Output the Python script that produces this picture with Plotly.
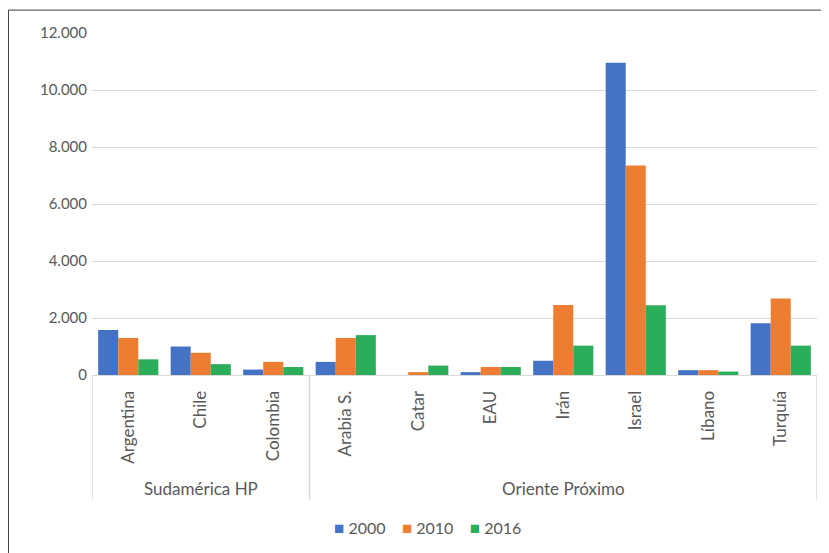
import plotly.graph_objects as go

# Categories (two-level x axis)
groups = ['Sudamérica HP', 'Oriente Próximo']
group_sizes = [3, 7]
countries = ['Argentina', 'Chile', 'Colombia', 'Arabia S.', 'Catar', 'EAU',
             'Irán', 'Israel', 'Líbano', 'Turquía']

# Series values
years = ['2000', '2010', '2016']
v2000 = [1580, 1000, 190, 460, 0, 100, 500, 10960, 170, 1820]
v2010 = [1300, 780, 460, 1300, 100, 280, 2460, 7350, 170, 2680]
v2016 = [550, 380, 280, 1400, 330, 280, 1030, 2450, 120, 1030]

y_ticks = [0, 2000, 4000, 6000, 8000, 10000, 12000]

COLORS = {'2000': '#4472C4', '2010': '#ED7D31', '2016': '#2AAE5A'}
GRID = '#D9D9D9'
TEXT = '#595959'

fig = go.Figure()
for year, vals in zip(years, [v2000, v2010, v2016]):
    fig.add_trace(go.Bar(
        x=countries,
        y=vals,
        name=year,
        marker=dict(color=COLORS[year], line=dict(width=0)),
    ))

# the page body adds an 8px offset, so the figure is 8px smaller to fit the window
fig.update_layout(
    width=821,
    height=545,
    barmode='group',
    bargap=0.17,
    bargroupgap=0,
    separators=',.',
    plot_bgcolor='white',
    paper_bgcolor='white',
    font=dict(family='Lato, Open Sans, sans-serif', size=16, color=TEXT),
    margin=dict(l=84, r=12, t=25, b=178),
    showlegend=False,
)

fig.update_yaxes(
    range=[0, 12000],
    tickvals=y_ticks,
    tickformat=',d',
    tickfont=dict(size=15, color=TEXT),
    gridcolor=GRID,
    gridwidth=1,
    zeroline=False,
    showline=False,
    ticks='',
    ticklabelstandoff=4,
    automargin=False,
)

fig.update_xaxes(
    type='category',
    range=[-0.5, len(countries) - 0.5],
    tickangle=-90,
    tickfont=dict(size=17, color=TEXT),
    showline=True,
    linecolor=GRID,
    ticks='',
    ticklabelstandoff=8,
    automargin=False,
)

# group dividers and group labels below the country labels
start = 0
edges = [-0.5]
for name, size in zip(groups, group_sizes):
    fig.add_annotation(
        x=start + (size - 1) / 2, xref='x',
        y=-0.333, yref='paper', yanchor='middle',
        text=name, showarrow=False,
        font=dict(size=17, color=TEXT),
    )
    start += size
    edges.append(start - 0.5)

for e in edges:
    fig.add_shape(type='line', xref='x', yref='paper',
                  x0=e, x1=e, y0=0, y1=-0.365,
                  line=dict(color=GRID, width=1.5))

# compact legend, Excel style: small square right next to the label
legend_text = '&nbsp;&nbsp;&nbsp;&nbsp;'.join(
    f'<span style="color:{COLORS[y]};font-size:17px">■</span>&nbsp;{y}' for y in years
)
fig.add_annotation(
    x=0.463, xref='paper', xanchor='center',
    y=-0.447, yref='paper', yanchor='middle',
    text=legend_text, showarrow=False,
    font=dict(size=16, color=TEXT),
)

# outer chart border (right and bottom edges fall outside the picture)
fig.add_shape(type='rect', xref='paper', yref='paper',
              x0=-0.1152, x1=1.2, y0=-0.8, y1=1.067,
              line=dict(color='#404040', width=1), fillcolor='rgba(0,0,0,0)',
              layer='below')

fig.write_html('out.html')
